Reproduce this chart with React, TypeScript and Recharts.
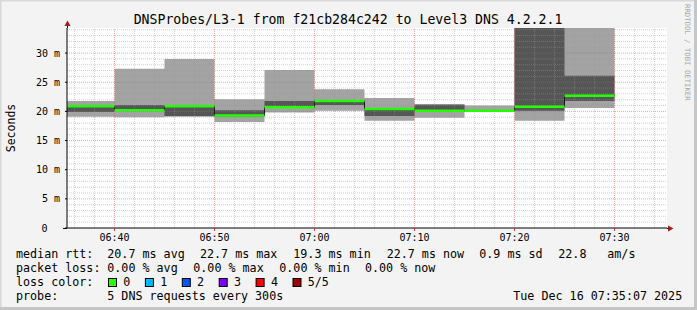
import { ComposedChart, Area, Line, XAxis, YAxis, ReferenceLine } from "recharts";

// 5-minute slots (start times), last entry closes the final step
const slots = ["06:35", "06:40", "06:45", "06:50", "06:55", "07:00", "07:05", "07:10", "07:15", "07:20", "07:25", "07:30"];

// sorted pings per slot (ms)
const pingMin = [19.1, 19.0, 19.1, 18.2, 19.8, 20.1, 18.4, 18.9, 19.9, 18.4, 20.6];
const ping2 = [19.9, 20.1, 19.2, 19.1, 20.6, 21.1, 19.2, 20.0, 20.0, 20.1, 21.8];
const median = [20.9, 20.2, 20.9, 19.3, 20.7, 21.8, 20.4, 20.1, 20.1, 20.8, 22.7];
const ping4 = [21.0, 21.1, 21.0, 20.2, 21.8, 21.9, 20.6, 21.2, 20.2, 36.0, 26.1];
const pingMax = [21.8, 27.3, 29.0, 22.1, 27.1, 23.8, 22.3, 21.2, 21.0, 38.0, 36.0];

const yTicks = [0, 5, 10, 15, 20, 25, 30];
const xTicks = ["06:40", "06:50", "07:00", "07:10", "07:20", "07:30"];

const rttTexts = ["median rtt:", "20.7 ms avg", "22.7 ms max", "19.3 ms min", "22.7 ms now", "0.9 ms sd", "22.8", "am/s"];
const lossTexts = ["packet loss:", "0.00 % avg", "0.00 % max", "0.00 % min", "0.00 % now"];
const lossLabels = ["0", "1", "2", "3", "4", "5/5"];
const lossColors = ["#26ff00", "#00b8ff", "#0059ff", "#7e00ff", "#ff0000", "#a10000"];
const probeTexts = ["probe:", "5 DNS requests every 300s", "Tue Dec 16 07:35:07 2025"];

const title = "DNSProbes/L3-1 from f21cb284c242 to Level3 DNS 4.2.2.1";

const FONT = "'DejaVu Sans Mono', monospace";

const toMin = (s: string) => {
  const [h, m] = s.split(":").map(Number);
  return h * 60 + m - 360;
};
const fmt = (v: number) => {
  const t = v + 360;
  const h = Math.floor(t / 60);
  const m = Math.round(t % 60);
  return `${String(h).padStart(2, "0")}:${String(m).padStart(2, "0")}`;
};

const rows = slots.map((s, i) => {
  const j = Math.min(i, median.length - 1);
  return {
    t: toMin(s),
    outer: [pingMin[j], pingMax[j]],
    inner: [ping2[j], ping4[j]],
    median: median[j],
  };
});

const minorY: number[] = [];
for (let v = 1; v <= 34; v++) minorY.push(v);
const minorX: number[] = [];
for (let v = 36; v <= 94; v += 2) minorX.push(v);

const YTick = (props: any) => {
  const { x, y, payload } = props;
  const v = payload.value;
  return (
    <text x={v === 0 ? x - 12.5 : x} y={y} textAnchor="end" dominantBaseline="central" fontSize={10} fontFamily={FONT} fill="#000">
      {v === 0 ? "0" : `${v} m`}
    </text>
  );
};

export default function App() {
  const rttX = [16, 107.3, 200, 293.3, 386.7, 479.3, 558.3, 607.3];
  const lossX = [16, 107.3, 193.3, 279.3, 365];
  const probeX = [16, 107.3, 513.3];
  return (
    <div style={{ position: "absolute", left: 0, top: 0, width: 697, height: 310, background: "#f3f3f3", overflow: "hidden" }}>
      <div style={{ position: "absolute", left: 67, top: 28, width: 600, height: 200, background: "#ffffff" }} />
      <div style={{ position: "absolute", left: 0, top: 0 }}>
        <ComposedChart width={697} height={310} data={rows} margin={{ top: 28, right: 30, bottom: 52, left: 0 }}>
          <XAxis
            dataKey="t"
            type="number"
            domain={[35.25, 95.25]}
            allowDataOverflow
            ticks={xTicks.map(toMin)}
            tickFormatter={fmt}
            height={30}
            tickSize={3}
            tickMargin={3}
            axisLine={{ stroke: "#000" }}
            tickLine={{ stroke: "#d04040" }}
            tick={{ fill: "#000", fontSize: 10, fontFamily: FONT }}
          />
          <YAxis
            type="number"
            domain={[0, 34.3]}
            allowDataOverflow
            ticks={yTicks}
            width={67}
            tickSize={2}
            tickMargin={5}
            axisLine={{ stroke: "#000" }}
            tickLine={{ stroke: "#000" }}
            tick={<YTick />}
          />
          <Area dataKey="outer" type="stepAfter" stroke="none" fill="#a3a3a3" fillOpacity={1} isAnimationActive={false} />
          <Area dataKey="inner" type="stepAfter" stroke="none" fill="#565656" fillOpacity={1} isAnimationActive={false} />
          {minorY.map((v) => (
            <ReferenceLine
              key={`gy-${v}`}
              y={v}
              stroke={v % 5 === 0 ? "rgba(222,80,80,0.5)" : "rgba(150,150,150,0.45)"}
              strokeDasharray="1 1"
              ifOverflow="hidden"
            />
          ))}
          {minorX.map((v) => (
            <ReferenceLine
              key={`gx-${v}`}
              x={v}
              stroke={v % 10 === 0 ? "rgba(222,80,80,0.5)" : "rgba(150,150,150,0.45)"}
              strokeDasharray="1 1"
              ifOverflow="hidden"
            />
          ))}
          <Line dataKey="median" type="stepAfter" stroke="#1a1a1a" strokeWidth={1} dot={false} isAnimationActive={false} />
          {median.map((m, i) => (
            <ReferenceLine
              key={`med-${i}`}
              segment={[
                { x: rows[i].t, y: m },
                { x: rows[i + 1].t, y: m },
              ]}
              stroke="#22ff00"
              strokeWidth={2.5}
              ifOverflow="hidden"
            />
          ))}
        </ComposedChart>
      </div>
      <svg width={697} height={310} style={{ position: "absolute", left: 0, top: 0, pointerEvents: "none" }} fontFamily={FONT}>
        {/* frame */}
        <rect x={0} y={0} width={697} height={1.5} fill="#d8d8d8" />
        <rect x={0} y={0} width={1.5} height={310} fill="#d8d8d8" />
        <rect x={694} y={0} width={3} height={310} fill="#c6c6c6" />
        <rect x={0} y={307} width={697} height={3} fill="#c6c6c6" />
        {/* axis extensions and arrows */}
        <line x1={67.5} y1={22} x2={67.5} y2={28} stroke="#000" />
        <line x1={63} y1={228.5} x2={67} y2={228.5} stroke="#000" />
        <line x1={667} y1={228.5} x2={669} y2={228.5} stroke="#000" />
        <polygon points="64.5,26 70.5,26 67.5,20.5" fill="#a01a1a" />
        <polygon points="668,225.5 668,231.5 673.5,228.5" fill="#a01a1a" />
        <text x={348} y={24} textAnchor="middle" fontSize={13.2} fill="#000">
          {title}
        </text>
        <text transform="translate(15,128) rotate(-90)" textAnchor="middle" fontSize={11.5} fill="#000">
          Seconds
        </text>
        <text transform="translate(684.5,4) rotate(90)" fontSize={7.3} fill="#a8a8a8">
          RRDTOOL / TOBI OETIKER
        </text>
        {rttTexts.map((s, i) => (
          <text key={`r${i}`} x={rttX[i]} y={258} fontSize={11.7} fill="#000">
            {s}
          </text>
        ))}
        {lossTexts.map((s, i) => (
          <text key={`l${i}`} x={lossX[i]} y={272} fontSize={11.7} fill="#000">
            {s}
          </text>
        ))}
        <text x={16} y={286} fontSize={11.7} fill="#000">
          loss color:
        </text>
        {lossLabels.map((s, i) => (
          <g key={`c${i}`}>
            <rect x={108.5 + i * 36.9} y={278.5} width={8} height={8} fill={lossColors[i]} stroke="#000" strokeWidth={1} />
            <text x={123.3 + i * 36.9} y={286} fontSize={11.7} fill="#000">
              {s}
            </text>
          </g>
        ))}
        {probeTexts.map((s, i) => (
          <text key={`p${i}`} x={probeX[i]} y={299.5} fontSize={11.7} fill="#000">
            {s}
          </text>
        ))}
      </svg>
    </div>
  );
}
